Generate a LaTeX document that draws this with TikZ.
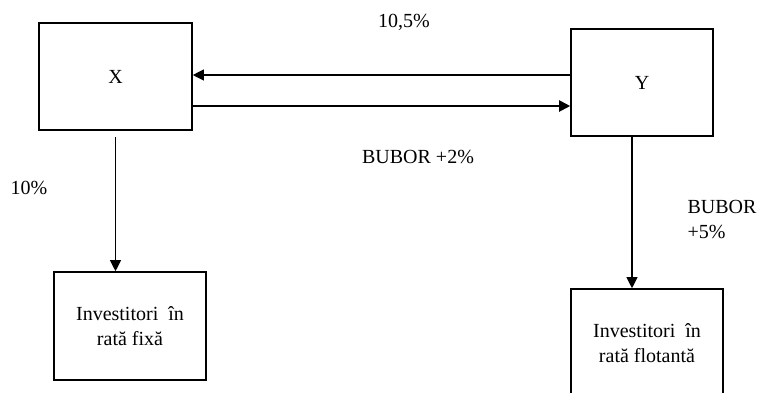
\documentclass[tikz,border=0pt]{standalone}
\usepackage{fontspec}
\setmainfont{Liberation Serif}
\usetikzlibrary{arrows.meta,positioning}

\begin{document}
\begin{tikzpicture}[x=1pt, y=-1pt,
  every node/.style={font=\fontsize{20}{25}\selectfont},
  party/.style={draw, line width=1.6pt, minimum width=153pt, minimum height=107pt},
  investor/.style={draw, line width=1.6pt, minimum width=152pt, minimum height=108pt, align=center},
  flow/.style={line width=1.1pt, -{Triangle[length=11pt,width=11pt]}}]
	\useasboundingbox (0,0) rectangle (761,392);
	
	% Parties of the swap
	\node[party] (X) at (115.5,76.5) {X};
	\node[party, minimum width=142pt] (Y) at (642,82.5) {Y};
	
	% Investors
	\node[investor] (fix) at (130,326) {Investitori\ \ în\\ rată fixă};
	\node[investor] (flot) at (647,343) {Investitori\ \ în\\ rată flotantă};
	
	% Flows between X and Y
	\draw[flow] ([yshift=7.5pt]Y.west) -- ([yshift=7.5pt]Y.west -| X.east);
	\draw[flow, line width=2pt] ([yshift=-29.5pt]X.east) -- ([yshift=-29.5pt]X.east -| Y.west);
	
	% Flows to investors
	\draw[flow] ([yshift=-6pt]X.south) -- (X.south |- fix.north);
	\draw[flow] ([xshift=-10pt]Y.south) -- ([xshift=-10pt]Y.south |- flot.north);
	
	% Rates
	\node (r105) at (404,22) {10,5\%};
	\node (rbubor2) at (418,157) {BUBOR +2\%};
	\node (r10) at (29,188) {10\%};
	\node[anchor=west, align=left] (rbubor5) at (684,220) {BUBOR\\+5\%};
\end{tikzpicture}
\end{document}
